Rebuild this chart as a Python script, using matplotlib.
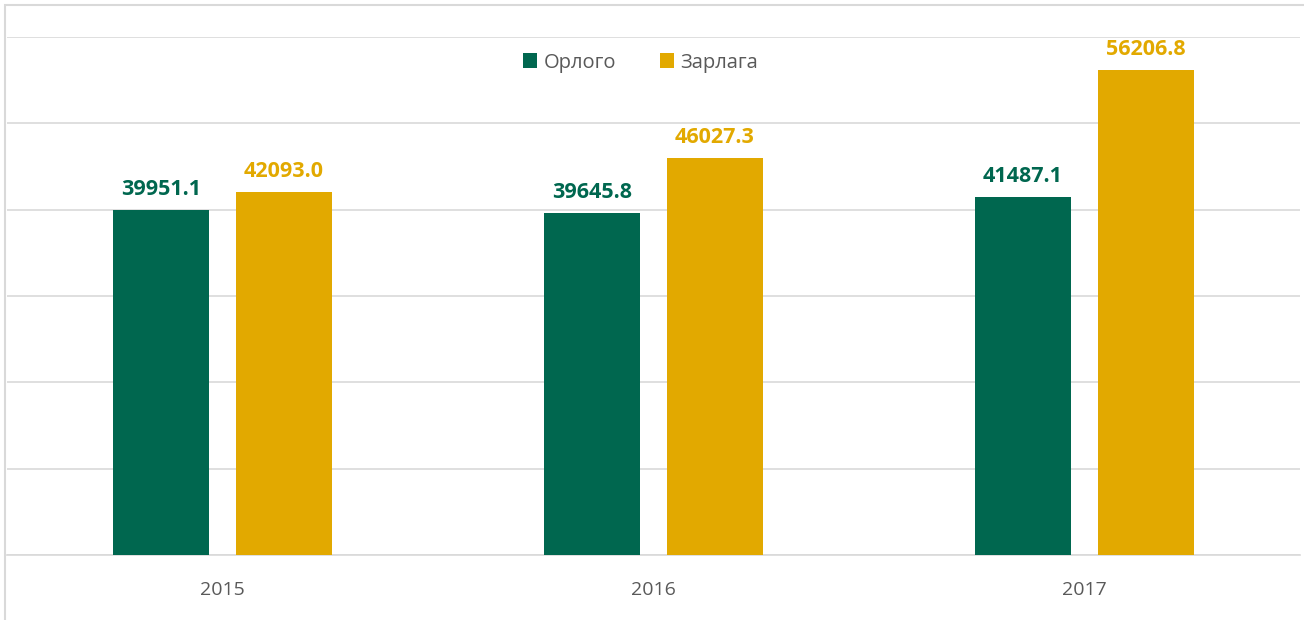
import matplotlib.pyplot as plt
import numpy as np
from matplotlib.patches import Rectangle

plt.rcParams['font.family'] = ['Open Sans', 'DejaVu Sans']

# === data ===
years = ['2015', '2016', '2017']
orlogo = [39951.1, 39645.8, 41487.1]
zarlaga = [42093.0, 46027.3, 56206.8]
series_names = ['Орлого', 'Зарлага']

GREEN = '#00674F'
GOLD = '#E2A900'
GRID = '#D9D9D9'
TXT = '#595959'

W, H = 1304, 620
fig = plt.figure(figsize=(W / 100, H / 100), dpi=100)

# outer chart frame (cut off at bottom/right like the screenshot)
fig.patches.append(Rectangle((5 / W, -0.1), 1.5, (H - 5) / H + 0.1,
                             transform=fig.transFigure, fill=False,
                             edgecolor=GRID, linewidth=1.5))

ax = fig.add_axes([7 / W, (H - 555) / H, (1300 - 7) / W, (555 - 37) / H])

x = np.arange(len(years))
w = 0.225
off = 0.1427
b1 = ax.bar(x - off, orlogo, w, color=GREEN, label=series_names[0], zorder=3)
b2 = ax.bar(x + off, zarlaga, w, color=GOLD, label=series_names[1], zorder=3)

for bars, vals, c in [(b1, orlogo, GREEN), (b2, zarlaga, GOLD)]:
    for r, v in zip(bars, vals):
        ax.annotate(f'{v:.1f}', (r.get_x() + r.get_width() / 2, v),
                    xytext=(0, 7), textcoords='offset points',
                    ha='center', va='bottom', fontsize=15.5, fontweight='bold', color=c)

ax.set_xlim(-0.5, 2.5)
ax.set_ylim(0, 60000)
ax.set_yticks(np.arange(0, 60001, 10000))
ax.set_yticklabels([])
ax.tick_params(axis='y', length=0)
ax.set_xticks(x)
ax.set_xticklabels(years, fontsize=14, color=TXT)
ax.tick_params(axis='x', length=0, pad=19)
ax.grid(axis='y', color=GRID, linewidth=1.2, zorder=0)
for s in ['top', 'right', 'left']:
    ax.spines[s].set_visible(False)
ax.spines['bottom'].set_color(GRID)
ax.spines['bottom'].set_linewidth(1.2)

leg = ax.legend(loc='upper center', bbox_to_anchor=(0.49, 1.005), ncol=2, frameon=False,
                fontsize=14.5, handlelength=0.7, handleheight=0.7, columnspacing=2.2,
                handletextpad=0.3)
for t in leg.get_texts():
    t.set_color(TXT)

fig.savefig('out.png', dpi=100)
